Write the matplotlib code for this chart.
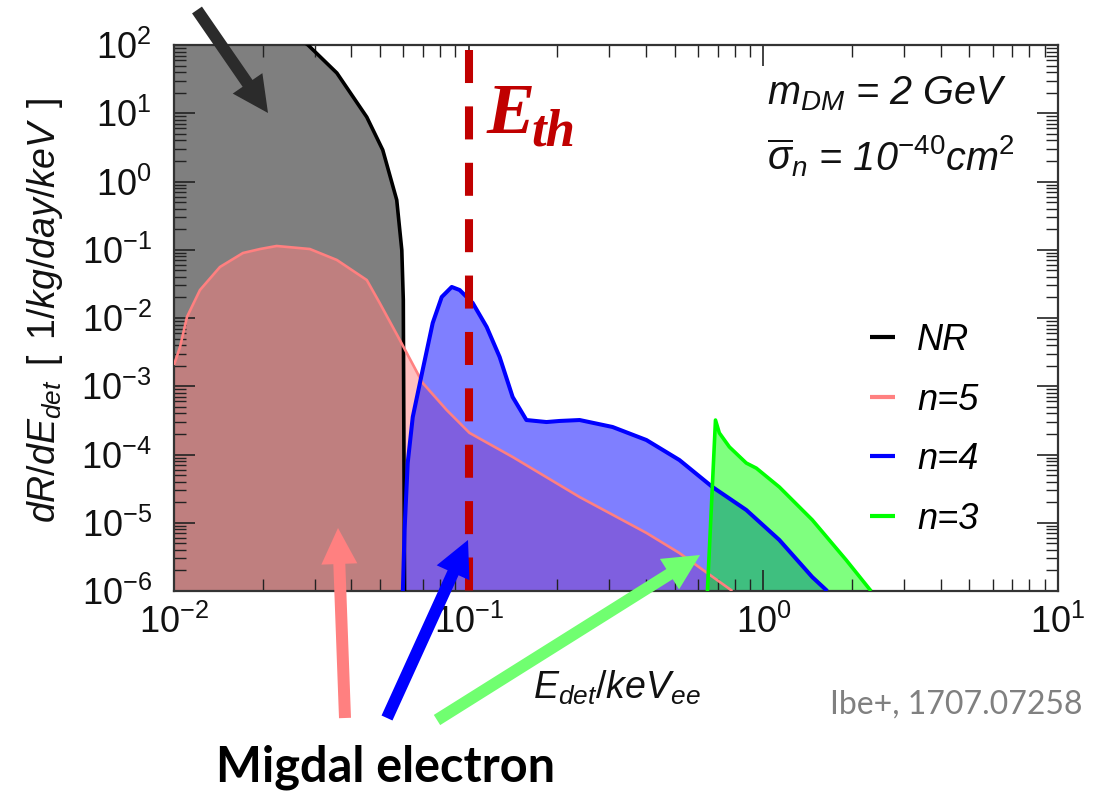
import numpy as np
import matplotlib
matplotlib.use("Agg")
import matplotlib.pyplot as plt
from matplotlib.patches import FancyArrow
from matplotlib.transforms import IdentityTransform
from matplotlib.ticker import LogLocator, FuncFormatter, NullFormatter

plt.rcParams['font.family'] = ['Liberation Sans', 'DejaVu Sans']
plt.rcParams['mathtext.fontset'] = 'custom'
plt.rcParams['mathtext.it'] = 'Liberation Sans:italic'
plt.rcParams['mathtext.rm'] = 'Liberation Sans'
plt.rcParams['mathtext.sf'] = 'Liberation Sans:italic'
plt.rcParams['mathtext.default'] = 'it'

# Differential rates dR/dE_det [1/kg/day/keV] vs detected energy [keV_ee]
nr_E = [0.010, 0.020, 0.0285, 0.0357, 0.0451, 0.0511, 0.0570, 0.0593, 0.0600, 0.0603, 0.0606]
nr_rate = [3000, 300, 100, 38.9, 8.8, 2.9, 0.536, 0.099, 0.0184, 1e-4, 1e-6]

n5_E = [0.0100, 0.01048, 0.01107, 0.01225, 0.01432, 0.01714, 0.0196, 0.0223, 0.0289,
        0.0357, 0.0451, 0.0499, 0.0584, 0.0698, 0.0842, 0.1007, 0.141, 0.238, 0.401,
        0.519, 0.785]
n5_rate = [2.05e-3, 3.76e-3, 1.04e-2, 2.57e-2, 5.59e-2, 8.96e-2, 0.1025, 0.1135, 0.1025,
           0.0708, 0.036, 0.0166, 4.76e-3, 1.12e-3, 4.49e-4, 2.07e-4, 9.2e-5, 2.38e-5,
           7.1e-6, 3.6e-6, 1e-6]

n4_E = [0.0598, 0.0606, 0.0621, 0.0646, 0.0698, 0.0755, 0.0810, 0.0876, 0.0932, 0.1032,
        0.1151, 0.1274, 0.141, 0.157, 0.1837, 0.2034, 0.238, 0.3078, 0.401, 0.519,
        0.672, 0.875, 1.133, 1.466, 1.648]
n4_rate = [1e-6, 7.8e-6, 7.5e-5, 3.54e-4, 1.73e-3, 8.45e-3, 2.03e-2, 2.85e-2, 2.57e-2,
           1.66e-2, 7.4e-3, 2.68e-3, 6.96e-4, 3.2e-4, 2.99e-4, 3.1e-4, 3.2e-4, 2.53e-4,
           1.63e-4, 8.3e-5, 3.34e-5, 1.54e-5, 5.6e-6, 1.6e-6, 1e-6]

n3_E = [0.646, 0.688, 0.709, 0.767, 0.875, 0.947, 1.133, 1.466, 1.911, 2.32]
n3_rate = [1e-6, 3.2e-4, 2.07e-4, 1.29e-4, 7.5e-5, 6.3e-5, 3.34e-5, 1.1e-5, 2.84e-6, 1e-6]

series_labels = ['NR', 'n=5', 'n=4', 'n=3']
series_colors = ['#000000', '#FF8080', '#0000FF', '#00FF00']
series_widths = [2.6, 1.9, 2.9, 2.6]

E_threshold = 0.1
x_limits = (1e-2, 1e1)
y_limits = (1e-6, 1e2)

W, H = 1114, 792
fig = plt.figure(figsize=(W / 100, H / 100), dpi=100)
ax = fig.add_axes([174 / W, 1 - 591 / H, 884 / W, 546 / H])
ax.set_xscale('log')
ax.set_yscale('log')
ax.set_xlim(*x_limits)
ax.set_ylim(*y_limits)

curves = [(nr_E, nr_rate), (n5_E, n5_rate), (n4_E, n4_rate), (n3_E, n3_rate)]
for (E, r), c in zip(curves, series_colors):
    ax.fill_between(E, r, y_limits[0], color=c, alpha=0.5, lw=0, zorder=1)
for (E, r), c, lw, lab in zip(curves, series_colors, series_widths, series_labels):
    ax.plot(E, r, color=c, lw=lw, label=lab, zorder=3, solid_capstyle='butt')

# detection threshold
thr_line, = ax.plot([E_threshold, E_threshold], [85, y_limits[0]], color='#C00000',
                    lw=5.8, zorder=4)
thr_line.set_dashes([4.1, 2.9])
thr_line.set_dash_capstyle('butt')

# axes styling
ax.xaxis.set_major_locator(LogLocator(base=10, numticks=20))
ax.yaxis.set_major_locator(LogLocator(base=10, numticks=20))
ax.xaxis.set_minor_locator(LogLocator(base=10, subs=np.arange(2, 10), numticks=20))
ax.yaxis.set_minor_locator(LogLocator(base=10, subs=np.arange(2, 10), numticks=20))
ax.xaxis.set_minor_formatter(NullFormatter())
ax.yaxis.set_minor_formatter(NullFormatter())
fmt = FuncFormatter(lambda v, _: r'$\mathit{10^{%d}}$' % int(round(np.log10(v))))
ax.xaxis.set_major_formatter(fmt)
ax.yaxis.set_major_formatter(fmt)
ax.tick_params(which='both', direction='in', top=True, right=True, colors='#222222',
               labelcolor='#111111', labelsize=26)
ax.tick_params(which='major', length=15, width=1.2)
ax.tick_params(which='minor', length=8.5, width=1.0)
ax.tick_params(axis='x', pad=10)
ax.tick_params(axis='y', pad=16)
for s in ax.spines.values():
    s.set_color('#333333')
    s.set_linewidth(1.6)

fig.text(45 / W, 1 - 310 / H,
         r'$dR/dE_{det}\ \,\mathrm{[}\ \,\mathit{1}/kg/day/keV\ \,\mathrm{]}$',
         rotation=90, ha='center', va='center', fontsize=27, color='#111111')
fig.text(617 / W, 1 - 688 / H, r'$E_{det}/keV_{ee}$', ha='center', va='center',
         fontsize=27, color='#111111')

leg = ax.legend(loc='upper left', bbox_to_anchor=((870 - 174) / 884, (591 - 323) / 546),
                frameon=False, fontsize=26, handlelength=0.68, handletextpad=0.62,
                labelspacing=0.68, borderpad=0, borderaxespad=0)
for t in leg.get_texts():
    t.set_fontstyle('italic')
for h in leg.get_lines():
    h.set_linewidth(3.0)

fig.text(767 / W, 1 - 104 / H, r'$m_{DM}$ = 2 GeV', fontsize=28.5, fontstyle='italic',
         va='baseline', color='#111111')
fig.text(767 / W, 1 - 170 / H, r'$\overline{\sigma}_n$ = 10$^{-40}$cm$^2$', fontsize=28.5,
         fontstyle='italic', va='baseline', color='#111111')

fig.text(487 / W, 1 - 133 / H, 'E', family='Liberation Serif', weight='bold',
         style='italic', fontsize=52, color='#C00000', va='baseline')
fig.text(531 / W, 1 - 145 / H, 'th', family='Liberation Serif', weight='bold',
         style='italic', fontsize=38, color='#C00000', va='baseline')

# pointer arrows (pixel coordinates, origin bottom-left)
pix = IdentityTransform()
arrows = [((197, 10), (268, 113), '#2B2B2B'),
          ((345, 718), (338, 528), '#FF8080'),
          ((387, 718), (468, 540), '#0000FF'),
          ((437, 720), (700, 555), '#70FF70')]
for (x0, y0), (x1, y1), c in arrows:
    fig.add_artist(FancyArrow(x0, H - y0, x1 - x0, y0 - y1, width=12, head_width=36,
                              head_length=36, length_includes_head=True, color=c,
                              lw=0, transform=pix))

fig.text(386 / W, 1 - 767 / H, 'Migdal electron', family='Lato', weight='bold',
         fontsize=35, ha='center', va='center', color='black')
fig.text(1082 / W, 1 - 705 / H, 'Ibe+, 1707.07258', family='Lato', fontsize=23,
         ha='right', va='center', color='#808080')

fig.savefig('out.png', dpi=100)
